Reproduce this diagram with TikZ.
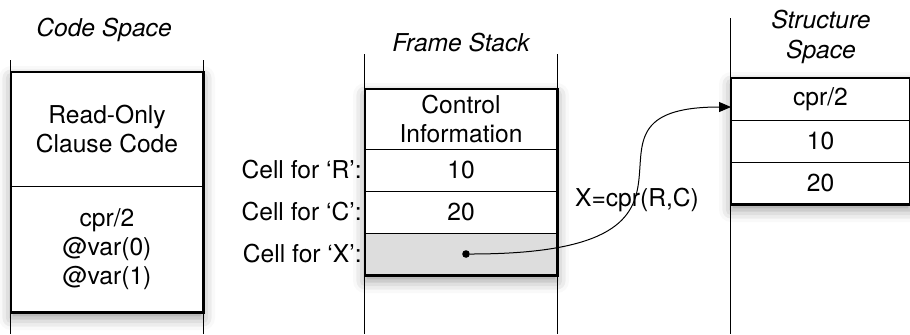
\documentclass[tikz,border=0pt]{standalone}
\usepackage{fontspec}
\setmainfont{TeX Gyre Heros}
\usepackage{tikz}
\usetikzlibrary{arrows.meta,positioning,fit,backgrounds,calc,shadows.blur}
\definecolor{cellgrey}{HTML}{DDDDDD}

\begin{document}
\begin{tikzpicture}[x=0.5pt,y=-0.5pt,font=\fontsize{12.3}{14.5}\selectfont,
  cell/.style={draw,line width=0.5pt,minimum width=96pt,inner sep=0pt,outer sep=0pt,align=center,anchor=north},
  title/.style={font=\fontsize{12.3}{15}\selectfont\itshape,align=center},
  lab/.style={anchor=east,inner sep=0pt},
  frame/.style={fill=white,inner sep=0pt,blur shadow={shadow xshift=0pt,shadow yshift=-3pt,shadow blur radius=6pt,shadow opacity=40}},
  edge/.style={line width=1.1pt},
  rail/.style={line width=0.5pt},
  dot/.style={circle,fill=black,minimum size=3.8pt,inner sep=0pt},
  ptr/.style={-{Triangle[length=6pt,width=5pt]},line width=0.5pt}]
  \useasboundingbox (0,0) rectangle (910,334);
  % code space
  \node[title] (cs) at (104,30) {Code Space};
  \node[cell,minimum height=57pt] (ro) at (107,72) {Read-Only\\Clause Code};
  \node[cell,minimum height=63pt,below=0pt of ro] (cc) {cpr/2\\@var(0)\\@var(1)};
  % frame stack
  \node[title] (fs) at (461,43) {Frame Stack};
  \node[cell,minimum height=30pt] (ci) at (461,89) {Control\\Information};
  \node[cell,minimum height=21pt,below=0pt of ci] (fr) {10};
  \node[cell,minimum height=21pt,below=0pt of fr] (fc) {20};
  \node[cell,minimum height=21pt,fill=cellgrey,below=0pt of fc] (fx) {};
  \node[lab,left=1.5pt of fr] (lr) {Cell for `R':};
  \node[lab,left=1.5pt of fc] (lc) {Cell for `C':};
  \node[lab,left=1.5pt of fx] (lx) {Cell for `X':};
  % structure space
  \node[title] (ss) at (821,37) {Structure\\Space};
  \node[cell,minimum width=89.5pt,minimum height=21pt] (s1) at (820.5,78) {cpr/2};
  \node[cell,minimum width=89.5pt,minimum height=21pt,below=0pt of s1] (s2) {10};
  \node[cell,minimum width=89.5pt,minimum height=21pt,below=0pt of s2] (s3) {20};
  \begin{scope}[on background layer]
    \node[frame,fit=(ro)(cc)] (code) {};
    \node[frame,fit=(ci)(fx)] (stack) {};
    \node[frame,fit=(s1)(s3)] (heap) {};
  \end{scope}
  \draw[edge] (code.north west) rectangle (code.south east);
  \draw[edge] (stack.north west) rectangle (stack.south east);
  \draw[edge] (heap.north west) rectangle (heap.south east);
  % side rails
  \draw[rail] (code.west |- 0,60) -- (code.west |- 0,334);
  \draw[rail] (code.east |- 0,60) -- (code.east |- 0,334);
  \draw[rail] (stack.west |- 0,54) -- (stack.west |- 0,334);
  \draw[rail] (stack.east |- 0,54) -- (stack.east |- 0,334);
  \draw[rail] (heap.west |- 0,18) -- (heap.west |- 0,334);
  % pointer from X into the heap
  \node[dot] (xp) at ([xshift=2.5pt]fx.center) {};
  \node (eq) at (637,200) {X=cpr(R,C)};
  \draw[ptr] (xp) .. controls +(295,0) and +(-185,0) .. ([yshift=-4pt]s1.west);
\end{tikzpicture}
\end{document}
